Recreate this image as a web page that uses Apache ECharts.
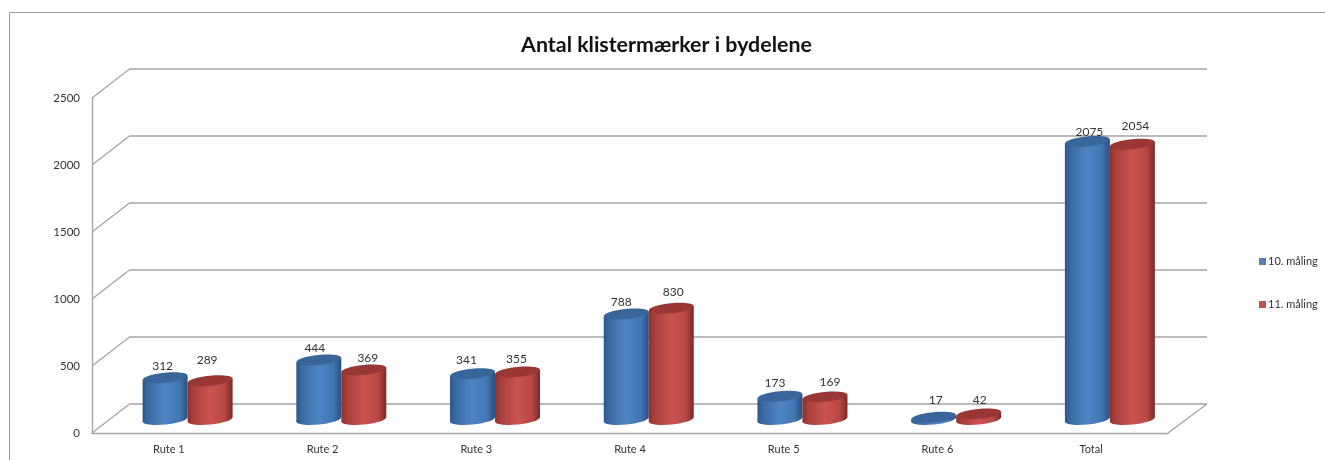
<!DOCTYPE html>
<html>
<head>
<meta charset="utf-8">
<style>
html,body{margin:0;padding:0;background:#fff;overflow:hidden}
#c{width:1325px;height:460px;filter:blur(0.35px)}
</style>
<script src="https://cdn.jsdelivr.net/npm/echarts@6/dist/echarts.min.js"></script>
</head>
<body>
<div id="c"></div>
<script>
const categories = ['Rute 1','Rute 2','Rute 3','Rute 4','Rute 5','Rute 6','Total'];
const seriesNames = ['10. måling','11. måling'];
const maaling10 = [312,444,341,788,173,17,2075];
const maaling11 = [289,369,355,830,169,42,2054];
const yTicks = [0,500,1000,1500,2000,2500];
const titleText = 'Antal klistermærker i bydelene';

// label nudges from the top of each cylinder, as the reference placed them by hand
const labelNudge10 = [[-2.5,-11.5],[-4,-12],[-6,-13.5],[-5,-12],[-5,-13.5],[2,-17.5],[2,-9.5]];
const labelNudge11 = [[-3,-20.5],[4,-11.5],[-1,-12.5],[2,-16.5],[5,-14.5],[1,-13.5],[3,-18.5]];

const FONT = 'Lato, "Open Sans", sans-serif';
const DEPTH_X = 37.5, DEPTH_Y = 29, BAR_LIFT = 13.5;
const LINE = '#a3a3a3';
const RX = 22.5, RY = 5, ROT = 0.1, T = RX * Math.sin(ROT);

function grad(stops){
  return {type:'linear',x:0,y:0,x2:1,y2:0,colorStops:stops.map(s=>({offset:s[0],color:s[1]}))};
}
const palettes = [
  {legend:'#4f81bd', top:'#38659a', body:grad([[0,'#2c5687'],[0.12,'#3a6aa3'],[0.5,'#4f85c6'],[0.82,'#4176b2'],[1,'#27507f']])},
  {legend:'#c0504d', top:'#983735', body:grad([[0,'#8a302e'],[0.12,'#a83f3c'],[0.5,'#cb5350'],[0.82,'#b84744'],[1,'#7a2a28']])}
];

function wallItem(params, api){
  const sys = params.coordSys;
  const y = api.coord([0, api.value(1)])[1];
  const x0 = sys.x, x1 = sys.x + sys.width;
  const style = {stroke:LINE, lineWidth:1.3, fill:null};
  const children = [
    {type:'line',shape:{x1:x0,y1:y,x2:x0+DEPTH_X,y2:y-DEPTH_Y},style},
    {type:'line',shape:{x1:x0+DEPTH_X,y1:y-DEPTH_Y,x2:x1+DEPTH_X+1.5,y2:y-DEPTH_Y},style}
  ];
  if (api.value(1) === 0) {
    children.push({type:'line',shape:{x1:x1,y1:y,x2:x1+DEPTH_X+1.5,y2:y-DEPTH_Y},style});
  }
  return {type:'group',children};
}

function cylinderItem(si, nudges){
  return function(params, api){
    const i = api.value(0), v = api.value(1);
    const base = api.coord([i,0]), top = api.coord([i,v]);
    const cx = base[0] + DEPTH_X/2 + (si === 0 ? -RX : RX);
    const by = base[1] - BAR_LIFT, ty = top[1] - BAR_LIFT;
    const p = palettes[si], n = nudges[i];
    return {type:'group',children:[
      {type:'ellipse',shape:{cx:cx,cy:by,rx:RX,ry:RY},rotation:ROT,originX:cx,originY:by,style:{fill:p.body}},
      {type:'polygon',shape:{points:[[cx-RX,ty+T],[cx+RX,ty-T],[cx+RX,by-T],[cx-RX,by+T]]},style:{fill:p.body}},
      {type:'ellipse',shape:{cx:cx,cy:ty,rx:RX,ry:RY},rotation:ROT,originX:cx,originY:ty,style:{fill:p.top}},
      {type:'text',z2:10,style:{x:cx+n[0],y:ty+n[1],text:String(v),fill:'#333',font:'12px '+FONT,align:'center',verticalAlign:'middle'}}
    ]};
  };
}

const chart = echarts.init(document.getElementById('c'),null,{renderer:'canvas'});
chart.setOption({
  animation:false,
  backgroundColor:'#fff',
  title:{text:titleText,left:661.5,top:30,textAlign:'center',
    textStyle:{fontFamily:FONT,fontSize:21.4,fontWeight:'bold',color:'#111'}},
  legend:{orient:'vertical',left:1254,top:251,itemWidth:7,itemHeight:7,itemGap:32,
    icon:'rect',data:seriesNames,
    textStyle:{fontFamily:FONT,fontSize:11,color:'#333',padding:[0,0,0,-3]}},
  grid:{left:92,top:98,width:1076,height:335},
  xAxis:{type:'category',data:categories,
    axisTick:{show:false},
    axisLine:{lineStyle:{color:LINE,width:1.3}},
    axisLabel:{fontFamily:FONT,fontSize:11,color:'#333',margin:11}},
  yAxis:{type:'value',min:0,max:2500,interval:500,
    axisLine:{show:true,lineStyle:{color:LINE,width:1.3}},
    axisTick:{show:false},
    splitLine:{show:false},
    axisLabel:{fontFamily:FONT,fontSize:11.5,color:'#333',margin:12,formatter:v=>String(v)}},
  graphic:[
    {type:'line',silent:true,z:-1,shape:{x1:9.5,y1:12.5,x2:1325,y2:12.5},style:{stroke:'#9a9a9a',lineWidth:1}},
    {type:'line',silent:true,z:-1,shape:{x1:9.5,y1:12.5,x2:9.5,y2:460},style:{stroke:'#9a9a9a',lineWidth:1}}
  ],
  series:[
    {type:'custom',name:'walls',silent:true,z:1,renderItem:wallItem,encode:{x:0,y:1},
      data:yTicks.map(t=>[0,t])},
    {type:'custom',name:seriesNames[0],z:2,renderItem:cylinderItem(0,labelNudge10),encode:{x:0,y:1},
      itemStyle:{color:palettes[0].legend},
      data:maaling10.map((v,i)=>[i,v])},
    {type:'custom',name:seriesNames[1],z:3,renderItem:cylinderItem(1,labelNudge11),encode:{x:0,y:1},
      itemStyle:{color:palettes[1].legend},
      data:maaling11.map((v,i)=>[i,v])}
  ]
});
</script>
</body>
</html>
